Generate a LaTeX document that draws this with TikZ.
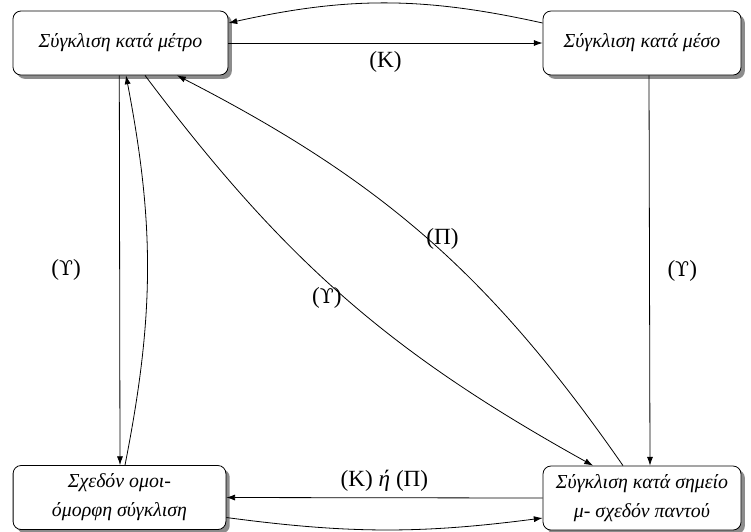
\documentclass[tikz,border=0pt]{standalone}
\usepackage{fontspec}
\setmainfont{Liberation Serif}
\newfontfamily\dvs[Scale=0.88]{DejaVu Serif}
\usetikzlibrary{shadows,arrows.meta,calc}
\begin{document}
\begin{tikzpicture}[x=0.625pt,y=-0.625pt,
 box/.style={draw, rounded corners=5pt, fill=white, line width=0.5pt,
   drop shadow={shadow xshift=2.4pt, shadow yshift=-2.4pt, fill=black!45, opacity=1},
   minimum height=40pt, align=center, font=\fontsize{12.4}{18}\selectfont\itshape, inner sep=0pt},
 conn/.style={line width=0.5pt, -{Latex[length=5.5pt,width=3.8pt]}},
 lab/.style={font=\fontsize{14.5}{16}\selectfont, inner sep=2pt}]
\useasboundingbox (0,0) rectangle (751,531);
\node[box, minimum width=134.4pt] (tl) at (120.5,43) {Σύγκλιση κατά μέτρο};
\node[box, minimum width=123.75pt] (tr) at (642,43) {Σύγκλιση κατά μέσο};
\node[box, minimum width=133pt] (bl) at (119.5,497.5) {Σχεδόν ομοι-\\όμορφη σύγκλιση};
\node[box, minimum width=123.75pt] (br) at (642,498) {Σύγκλιση κατά σημείο\\μ- σχεδόν παντού};
% top
\draw[conn] (tl.east) -- node[lab,below=3pt]{(Κ)} (tr.west);
\draw[conn] ($(tr.west)+(0,-20)$) to[bend right=12.5] ($(tl.east)+(0,-20)$);
% left
\draw[conn] ($(tl.south)+(-1.2,0)$) -- node[lab,left=22pt]{({\dvs ϒ})} ($(bl.north)+(0.5,0)$);
\draw[conn] ($(bl.north)+(5.5,0)$) to[bend right=11] ($(tl.south)+(5.5,0)$);
% diagonals
\draw[conn] ($(tl.south)+(24.5,0)$) to[bend right=12] node[lab,left=0pt]{({\dvs ϒ})} ($(br.north)+(-49,0)$);
\draw[conn] ($(br.north)+(-19,0)$) to[bend right=14] node[lab,right=-3pt]{(Π)} ($(tl.south)+(56.5,0)$);
% right
\draw[conn] ($(tr.south)+(7,0)$) -- node[lab,right=9pt]{({\dvs ϒ})} ($(br.north)+(8,0)$);
% bottom
\draw[conn] (br.west) -- node[lab,above=2pt]{(Κ) \textit{ή} (Π)} (bl.east);
\draw[conn] ($(bl.east)+(0,20)$) to[bend right=7.5] ($(br.west)+(0,20)$);
\end{tikzpicture}
\end{document}
